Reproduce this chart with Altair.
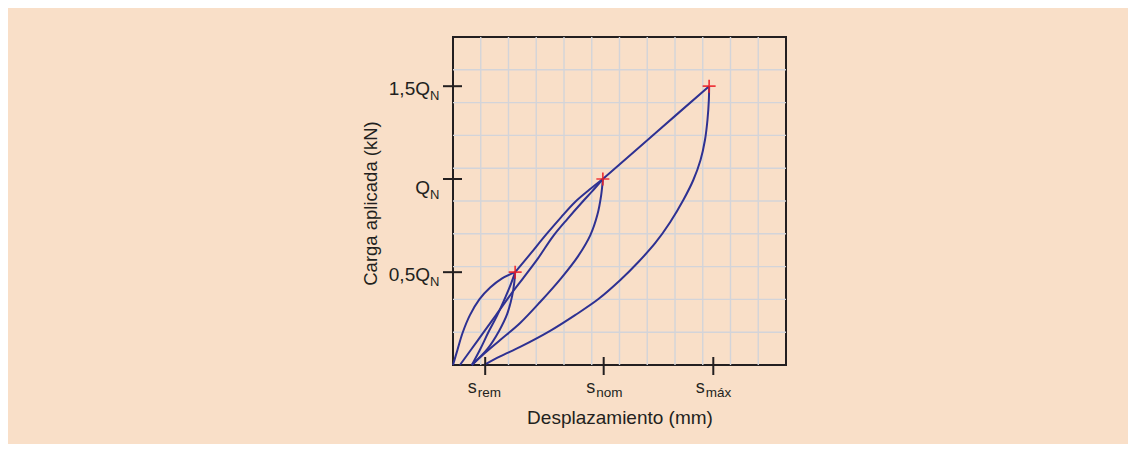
import altair as alt
import pandas as pd

# ---- data (grid units: x 0..12, y 0..10) ----
c1_x = [0, 0.16, 0.35, 0.61, 0.95, 1.34, 1.77, 2.24]
c1_y = [0, 0.46, 0.99, 1.52, 2.00, 2.36, 2.64, 2.83]
c2_x = [0.68, 0.98, 1.27, 1.58, 1.88, 2.06, 2.24]
c2_y = [0, 0.48, 0.99, 1.49, 2.05, 2.41, 2.83]
c3_x = [2.24, 2.21, 2.13, 1.95, 1.66, 1.25, 0.68]
c3_y = [2.83, 2.53, 2.10, 1.55, 1.04, 0.50, 0]
c4_x = [0.25, 0.90, 1.55, 2.09, 2.53, 3.07, 3.61, 4.12, 4.66, 5.02, 5.40]
c4_y = [0, 0.76, 1.52, 2.16, 2.65, 3.26, 3.93, 4.45, 4.97, 5.30, 5.67]
c5_x = [2.24, 2.78, 3.36, 3.90, 4.40, 4.91, 5.40]
c5_y = [2.83, 3.38, 3.98, 4.51, 4.97, 5.34, 5.67]
c6_x = [5.40, 5.34, 5.20, 4.95, 4.51, 3.90, 3.14, 2.42, 1.70, 1.16, 0.68]
c6_y = [5.67, 5.18, 4.57, 3.96, 3.32, 2.65, 1.92, 1.28, 0.76, 0.37, 0]
c7_x = [5.40, 7.32, 9.23]
c7_y = [5.67, 7.09, 8.50]
c8_x = [9.23, 9.22, 9.17, 9.08, 8.92, 8.66, 8.30, 7.83, 7.29, 6.68, 6.03, 5.24, 4.40, 3.50, 2.42, 1.70, 1.12]
c8_y = [8.50, 8.08, 7.47, 6.86, 6.25, 5.64, 5.03, 4.36, 3.72, 3.14, 2.59, 2.01, 1.52, 1.04, 0.55, 0.26, 0]

peaks_x = [2.24, 5.40, 9.23]
peaks_y = [2.83, 5.67, 8.50]

y_tick_values = [2.83, 8.50]
y_tick_main = ["0,5Q", "1,5Q"]
y_tick_sub = ["N", "N"]
q_tick_value = [5.67]
q_tick_main = ["Q"]
q_tick_sub = ["N"]

x_tick_values = [1.16, 5.43, 9.38]
x_tick_main = ["s", "s", "s"]
x_tick_sub = ["rem", "nom", "máx"]

x_grid = list(range(1, 12))
y_grid = list(range(1, 10))

# ---- build tables ----
curves = [(c1_x, c1_y), (c2_x, c2_y), (c3_x, c3_y), (c4_x, c4_y),
          (c5_x, c5_y), (c6_x, c6_y), (c7_x, c7_y), (c8_x, c8_y)]
rows = []
for ci, (xs_, ys_) in enumerate(curves):
    for i, (xv, yv) in enumerate(zip(xs_, ys_)):
        rows.append({"curve": f"c{ci+1}", "i": i, "x": xv, "y": yv})
df = pd.DataFrame(rows)
peaks = pd.DataFrame({"x": peaks_x, "y": peaks_y})
yt = pd.DataFrame({"y": y_tick_values, "main": y_tick_main, "sub": y_tick_sub})
qt = pd.DataFrame({"y": q_tick_value, "main": q_tick_main, "sub": q_tick_sub})
yt_all = pd.concat([yt, qt])
xt = pd.DataFrame({"x": x_tick_values, "main": x_tick_main, "sub": x_tick_sub})
xg = pd.DataFrame({"x": x_grid})
yg = pd.DataFrame({"y": y_grid})

W, H = 333, 328
INK = "#231f20"
GRID = "#d3d4d9"
FONT = "Liberation Sans"
xs = alt.Scale(domain=[0, 12], nice=False, zero=False)
ys = alt.Scale(domain=[0, 10], nice=False, zero=False)

AX = alt.Axis(grid=False, labels=False, ticks=False, domain=False,
              title="Desplazamiento (mm)", titleFontSize=19, titleFont=FONT,
              titleFontWeight="normal", titleColor=INK, titleX=166.5, titleY=58,
              titleAlign="center", titleBaseline="alphabetic")
AY = alt.Axis(grid=False, labels=False, ticks=False, domain=False,
              title="Carga aplicada (kN)", titleFontSize=18.5, titleFont=FONT,
              titleFontWeight="normal", titleColor=INK, titleX=-77, titleY=166,
              titleAngle=-90, titleAlign="center", titleBaseline="alphabetic")
X = alt.X("x:Q", scale=xs, axis=AX)
Y = alt.Y("y:Q", scale=ys, axis=AY)

vgrid = alt.Chart(xg).mark_rule(color=GRID, strokeWidth=1.4).encode(x=X)
hgrid = alt.Chart(yg).mark_rule(color=GRID, strokeWidth=1.4).encode(y=Y)

lines = alt.Chart(df).mark_line(
    color="#2e3192", strokeWidth=2, interpolate="catmull-rom"
).encode(x=X, y=Y, detail="curve:N", order="i:Q")

crosses = alt.Chart(peaks).mark_point(
    shape="M-1,0H1M0,-1V1", size=169, filled=False, stroke="#ed1c24",
    strokeWidth=1.7, opacity=0.85
).encode(x=X, y=Y)

ytick_rules = alt.Chart(yt_all).mark_rule(color=INK, strokeWidth=2).encode(
    y=Y, x=alt.value(-10), x2=alt.value(9))
xtick_rules = alt.Chart(xt).mark_rule(color=INK, strokeWidth=2).encode(
    x=X, y=alt.value(H - 8), y2=alt.value(H + 10))

ylab_main = alt.Chart(yt).mark_text(
    align="right", baseline="alphabetic", dx=-23, dy=8.5, fontSize=19,
    font=FONT, color=INK).encode(y=Y, x=alt.value(0), text="main:N")
ylab_sub = alt.Chart(yt).mark_text(
    align="left", baseline="alphabetic", dx=-23, dy=13.7, fontSize=13,
    font=FONT, color=INK).encode(y=Y, x=alt.value(0), text="sub:N")
qlab_main = alt.Chart(qt).mark_text(
    align="right", baseline="alphabetic", dx=-23, dy=14.8, fontSize=19,
    font=FONT, color=INK).encode(y=Y, x=alt.value(0), text="main:N")
qlab_sub = alt.Chart(qt).mark_text(
    align="left", baseline="alphabetic", dx=-23, dy=19.8, fontSize=13,
    font=FONT, color=INK).encode(y=Y, x=alt.value(0), text="sub:N")

xlab_main = alt.Chart(xt).mark_text(
    align="right", baseline="alphabetic", dx=-8.5, fontSize=18,
    font=FONT, color=INK).encode(x=X, y=alt.value(H + 28), text="main:N")
xlab_sub = alt.Chart(xt).mark_text(
    align="left", baseline="alphabetic", dx=-7.5, fontSize=13.5,
    font=FONT, color=INK).encode(x=X, y=alt.value(H + 32.3), text="sub:N")

chart = alt.layer(
    vgrid, hgrid, lines, crosses, ytick_rules, xtick_rules,
    ylab_main, ylab_sub, qlab_main, qlab_sub, xlab_main, xlab_sub
).properties(
    width=W, height=H,
    autosize=alt.AutoSizeParams(type="none"),
    padding={"left": 445, "top": 29, "right": 342, "bottom": 79},
    background="#f9dfc8",
).configure_view(
    stroke=INK, strokeWidth=2
)

chart.save("out.html", embed_options={"renderer": "svg", "actions": False})
